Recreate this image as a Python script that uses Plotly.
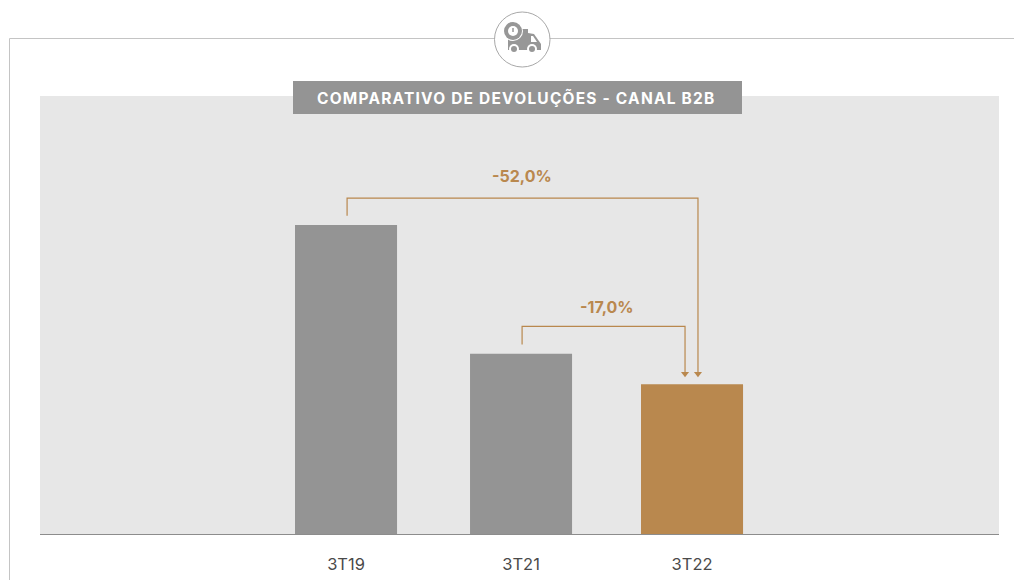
import plotly.graph_objects as go

categories = ["3T19", "3T21", "3T22"]
positions = [1.0, 2.0, 2.977]
values = [100.0, 58.3, 48.5]
bar_colors = ["#949494", "#949494", "#b9884e"]
title_text = "COMPARATIVO DE DEVOLUÇÕES - CANAL B2B"
delta_long = "-52,0%"
delta_short = "-17,0%"

GOLD = "#b9884e"
FONT = "Inter, 'Open Sans', sans-serif"
W, H = 1014, 580
L, R, T, B = 40, 15, 96, 46


def px(x):
    return (x - L) / (W - L - R)


def py(y):
    return 1 - (y - T) / (H - T - B)


fig = go.Figure()
fig.add_trace(go.Bar(x=positions, y=values, width=0.583, marker=dict(color=bar_colors, line_width=0),
                     hoverinfo="skip", showlegend=False))

# bracket connectors (axis coordinates)
brackets = [
    ([1.006, 1.006, 3.011, 3.011], [103.0, 108.7, 108.7, 51.9]),
    ([2.006, 2.006, 2.937, 2.937], [61.3, 67.2, 67.2, 51.9]),
]
for bx, by in brackets:
    fig.add_trace(go.Scatter(x=bx, y=by, mode="lines", line=dict(color=GOLD, width=1.2),
                             hoverinfo="skip", showlegend=False))
    fig.add_trace(go.Scatter(x=[bx[-1]], y=[by[-1]], mode="markers",
                             marker=dict(symbol="triangle-down", size=7, color=GOLD, line_width=0),
                             hoverinfo="skip", showlegend=False))


def rect(x0, y0, x1, y1, fill, line=None, lw=0, kind="rect"):
    return dict(type=kind, xref="paper", yref="paper", x0=px(x0), x1=px(x1), y0=py(y0), y1=py(y1),
                fillcolor=fill, line=dict(color=line, width=lw) if line else dict(width=0), layer="above")


def seg(x0, y0, x1, y1, color="#c4c4c4", lw=1):
    return dict(type="line", xref="paper", yref="paper", x0=px(x0), x1=px(x1), y0=py(y0), y1=py(y1),
                line=dict(color=color, width=lw), layer="above")


ICON = "#979797"
shapes = [
    seg(9.5, 38.5, 1014, 38.5),
    seg(9.5, 38.5, 9.5, 580),
    rect(494.5, 12, 550, 67, "#ffffff", "#a8a8a8", 1, "circle"),
    rect(293, 81, 742, 114, "#949494"),
    # truck: body, cab, wheels, clock
    rect(508, 29, 528, 50, ICON),
    dict(type="path", xref="paper", yref="paper", layer="above", fillcolor=ICON, line=dict(width=0),
         path=f"M {px(528)} {py(33)} L {px(534)} {py(34)} L {px(541)} {py(44)} L {px(541)} {py(50)} L {px(528)} {py(50)} Z"),
    dict(type="path", xref="paper", yref="paper", layer="above", fillcolor="#ffffff", line=dict(width=0),
         path=f"M {px(531)} {py(36)} L {px(533)} {py(36)} L {px(537)} {py(42)} L {px(531)} {py(42)} Z"),
    rect(509, 44, 519, 54, "#ffffff", kind="circle"),
    rect(527, 44, 537, 54, "#ffffff", kind="circle"),
    rect(511, 46, 517, 52, ICON, kind="circle"),
    rect(529, 46, 535, 52, ICON, kind="circle"),
    rect(503, 21, 523, 41, "#ffffff", kind="circle"),
    rect(504, 22, 522, 40, ICON, kind="circle"),
    rect(508, 26, 518, 36, "#ffffff", kind="circle"),
    seg(513, 28, 513, 32, ICON, 1.5),
]

annotations = [
    dict(xref="paper", yref="paper", x=px(516), y=py(98),
         text=f"<span style='letter-spacing:1.2px'><b>{title_text}</b></span>", showarrow=False,
         xanchor="center", yanchor="middle", font=dict(family=FONT, size=15.5, color="#ffffff")),
    dict(xref="paper", yref="paper", x=px(522), y=py(176), text=f"<b>{delta_long}</b>", showarrow=False,
         xanchor="center", yanchor="middle", font=dict(family=FONT, size=16, color=GOLD)),
    dict(xref="paper", yref="paper", x=px(607), y=py(307), text=f"<b>{delta_short}</b>", showarrow=False,
         xanchor="center", yanchor="middle", font=dict(family=FONT, size=16, color=GOLD)),
]

fig.update_layout(
    width=W, height=H, autosize=False,
    margin=dict(l=L, r=R, t=T, b=B, pad=0),
    paper_bgcolor="#ffffff", plot_bgcolor="#e7e7e7",
    font=dict(family=FONT, color="#4a4a4a"),
    shapes=shapes, annotations=annotations, showlegend=False,
    xaxis=dict(range=[-0.7486, 4.731], tickmode="array", tickvals=positions, ticktext=categories,
               showgrid=False, zeroline=False, showline=True, linecolor="#8c8c8c", linewidth=1,
               automargin=False,
               ticks="outside", ticklen=15, tickcolor="rgba(0,0,0,0)", tickfont=dict(size=16.5, color="#4a4a4a")),
    yaxis=dict(range=[0, 141.75], visible=False, automargin=False),
)

fig.write_html("out.html", config={"displayModeBar": False},
               post_script="document.body.style.margin='0';")
